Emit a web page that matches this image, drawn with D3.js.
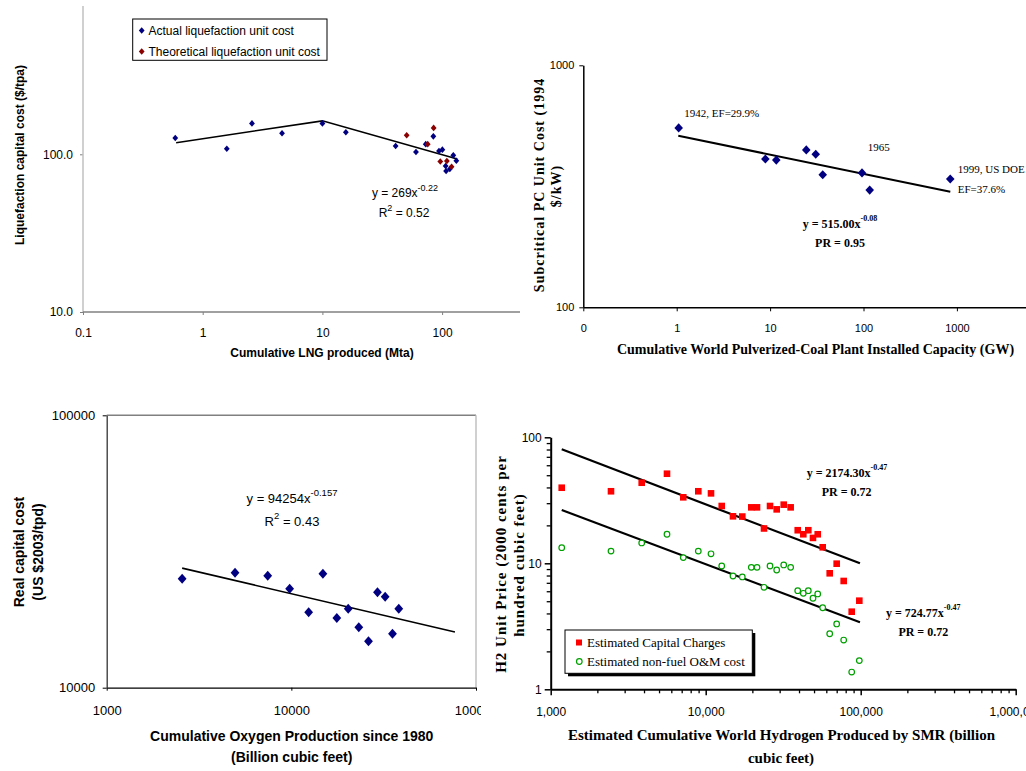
<!DOCTYPE html>
<html><head><meta charset="utf-8">
<script src="https://cdn.jsdelivr.net/npm/d3@7/dist/d3.min.js"></script>
<style>
body{margin:0;background:#fff;}
svg{display:block;}
.arial{font-family:"Liberation Sans",Arial,sans-serif;}
.times{font-family:"Liberation Serif","Times New Roman",serif;}
</style></head>
<body><svg id="c" width="1026" height="771"></svg>
<script>
// ---------- Panel 1: LNG liquefaction ----------
const lngActualX = [0.59,1.59,2.58,4.6,10,15.7,40.9,60.5,73,84.5,94.2,100.5,124,131.5,107,108,116];
const lngActualY = [127,108.5,157,136,157,138,113,103.4,116,130,105,107,98.5,91,84.3,78.4,80.7];
const lngTheoX = [50.6,85,75.8,96.6,109.6,120];
const lngTheoY = [132,147,116,90,90.6,83.4];
const lngTrendX = [0.6,10,134];
const lngTrendY = [118.5,163,93.4];
const lngXTicks = [0.1,1,10,100];
const lngXTickLabels = ["0.1","1","10","100"];
const lngYTicks = [10,100];
const lngYTickLabels = ["10.0","100.0"];

// ---------- Panel 2: Pulverized coal ----------
const coalX = [1.05,8.9,11.65,24.4,30.8,36.6,96.4,116.5,849];
const coalY = [551,410,406,447,429,353,359,305,339];
const coalTrendX = [1.04,850];
const coalTrendY = [512,300];
const coalXTicks = [0.1,1,10,100,1000];
const coalXTickLabels = ["0","1","10","100","1000"];
const coalYTicks = [100,1000];
const coalYTickLabels = ["100","1000"];

// ---------- Panel 3: Oxygen ----------
const oxyX = [2562,4955,7447,9790,14820,12410,17630,20330,23190,26170,29270,32210,35300,38170];
const oxyY = [25120,26430,25780,23080,26210,18920,18020,19500,16670,14800,22400,21580,15780,19500];
const oxyTrendX = [2562,76900];
const oxyTrendY = [27480,16010];
const oxyXTicks = [1000,10000,100000];
const oxyXTickLabels = ["1000","10000","100000"];
const oxyYTicks = [10000,100000];
const oxyYTickLabels = ["10000","100000"];

// ---------- Panel 4: Hydrogen SMR ----------
const h2X = [1178,2449,3865,5627,7168,8958,10820,12690,15000,17220,19690,21430,23780,26000,28710,31870,35330,39240,42640,45920,49220,52810,56860,63100,69990,77670,87500,97970];
const capY = [39.8,37.3,43.6,51.4,33.4,37.3,35.9,28.5,23.6,23.5,27.8,27.8,18.9,28.5,26.8,29.2,27.8,18.3,17.0,18.3,15.9,17.0,13.4,8.33,9.93,7.24,4.13,5.05];
const omY = [13.3,12.5,14.5,17.0,11.1,12.5,11.9,9.52,7.93,7.79,9.29,9.29,6.45,9.52,8.85,9.70,9.29,6.06,5.78,6.06,5.28,5.71,4.44,2.76,3.30,2.46,1.37,1.69];
const capTrendX = [1178,98900];
const capTrendY = [80.3,10.0];
const omTrendX = [1178,98900];
const omTrendY = [26.5,3.40];
const h2XTicks = [1000,10000,100000,1000000];
const h2XTickLabels = ["1,000","10,000","100,000","1,000,000"];
const h2YTicks = [1,10,100];
const h2YTickLabels = ["1","10","100"];

const svg = d3.select("#c");
svg.append("rect").attr("width",1026).attr("height",771).attr("fill","#fff");

function zip(xs, ys){ return xs.map((x,i)=>[x, ys[i]]); }
function fmt(ticks, labels){ return d => labels[ticks.indexOf(d)]; }
function minorTicks(lo, hi){ const out=[]; for(let p=lo;p<hi;p*=10){ for(let k=2;k<=9;k++) out.push(p*k);} return out; }
function diamond(hw, hh){ return `M0,${-hh}L${hw},0L0,${hh}L${-hw},0Z`; }

// ===== Panel 1 =====
{
  const g = svg.append("g").attr("class","arial");
  const x = d3.scaleLog().domain([0.1,1000]).range([83,561.8]);
  const y = d3.scaleLog().domain([10,1000]).range([312,-3.4]);
  svg.append("clipPath").attr("id","clip1").append("rect").attr("x",0).attr("y",0).attr("width",520).attr("height",370);
  const xa = g.append("g").attr("transform","translate(0,312)").attr("clip-path","url(#clip1)")
    .call(d3.axisBottom(x).tickValues(lngXTicks).tickFormat(fmt(lngXTicks,lngXTickLabels)).tickSize(3).tickPadding(13.5));
  xa.select(".domain").remove();
  xa.selectAll("line").attr("stroke","#808080");
  xa.selectAll("text").attr("font-size",12).attr("fill","#000");
  const ya = g.append("g").attr("transform","translate(83,0)")
    .call(d3.axisLeft(y).tickValues(lngYTicks).tickFormat(fmt(lngYTicks,lngYTickLabels)).tickSize(3).tickPadding(7));
  ya.select(".domain").remove();
  ya.selectAll("line").attr("stroke","#808080");
  ya.selectAll("text").attr("font-size",12).attr("fill","#000");
  g.append("line").attr("x1",83).attr("x2",83).attr("y1",6).attr("y2",312).attr("stroke","#c0c0c0").attr("stroke-width",1.5);
  g.append("line").attr("x1",83).attr("x2",520).attr("y1",312).attr("y2",312).attr("stroke","#808080").attr("stroke-width",1.5);
  g.append("path").datum(zip(lngTrendX,lngTrendY))
    .attr("d", d3.line().x(d=>x(d[0])).y(d=>y(d[1]))).attr("fill","none").attr("stroke","#000").attr("stroke-width",1.6);
  const dia = diamond(2.9,3.3);
  g.selectAll(".a").data(zip(lngActualX,lngActualY)).join("path")
    .attr("transform",d=>`translate(${x(d[0])},${y(d[1])})`).attr("d",dia).attr("fill","#000080");
  g.selectAll(".t").data(zip(lngTheoX,lngTheoY)).join("path")
    .attr("transform",d=>`translate(${x(d[0])},${y(d[1])})`).attr("d",dia).attr("fill","#8b0000");
  g.append("rect").attr("x",132.7).attr("y",19).attr("width",194.3).attr("height",41.3).attr("fill","#fff").attr("stroke","#000").attr("stroke-width",1);
  g.append("path").attr("transform","translate(141.7,30.5)").attr("d",dia).attr("fill","#000080");
  g.append("path").attr("transform","translate(141.7,51.5)").attr("d",dia).attr("fill","#8b0000");
  g.append("text").attr("x",148.5).attr("y",35).attr("font-size",12).text("Actual liquefaction unit cost");
  g.append("text").attr("x",148.5).attr("y",56).attr("font-size",12).text("Theoretical liquefaction unit cost");
  const eq = g.append("text").attr("x",405).attr("y",197).attr("font-size",12).attr("text-anchor","middle");
  eq.append("tspan").text("y = 269x");
  eq.append("tspan").attr("dy",-6).attr("font-size",9).text("-0.22");
  const r2 = g.append("text").attr("x",404).attr("y",217).attr("font-size",12).attr("text-anchor","middle");
  r2.append("tspan").text("R");
  r2.append("tspan").attr("dy",-6).attr("font-size",9).text("2");
  r2.append("tspan").attr("dy",6).text(" = 0.52");
  g.append("text").attr("transform","translate(24,155) rotate(-90)").attr("text-anchor","middle")
    .attr("font-size",12).attr("font-weight","bold").text("Liquefaction capital cost ($/tpa)");
  g.append("text").attr("x",322).attr("y",357).attr("text-anchor","middle")
    .attr("font-size",12).attr("font-weight","bold").text("Cumulative LNG produced (Mta)");
}

// ===== Panel 2 =====
{
  const g = svg.append("g").attr("class","times");
  const x = d3.scaleLog().domain([0.1,10000]).range([583.3,1050.3]);
  const y = d3.scaleLog().domain([100,1000]).range([307.3,65.3]);
  const xa = g.append("g").attr("transform","translate(0,307.3)")
    .call(d3.axisBottom(x).tickValues(coalXTicks).tickFormat(fmt(coalXTicks,coalXTickLabels)).tickSize(4).tickPadding(13).tickSizeOuter(0));
  xa.select(".domain").attr("stroke-width",1.5);
  xa.selectAll("text").attr("font-size",11).attr("fill","#000");
  const ya = g.append("g").attr("transform","translate(583.3,0)")
    .call(d3.axisLeft(y).tickValues(coalYTicks).tickFormat(fmt(coalYTicks,coalYTickLabels)).tickSize(4).tickPadding(5).tickSizeOuter(0));
  ya.select(".domain").attr("stroke-width",1.5);
  ya.selectAll("text").attr("font-size",11).attr("fill","#000");
  g.append("path").datum(zip(coalTrendX,coalTrendY))
    .attr("d", d3.line().x(d=>x(d[0])).y(d=>y(d[1]))).attr("fill","none").attr("stroke","#000").attr("stroke-width",2);
  const dia = diamond(4.3,4.6);
  g.selectAll(".c").data(zip(coalX,coalY)).join("path")
    .attr("transform",d=>`translate(${x(d[0])},${y(d[1])})`).attr("d",dia).attr("fill","#000080");
  g.append("text").attr("x",684.3).attr("y",117).attr("font-size",11).text("1942, EF=29.9%");
  g.append("text").attr("x",867.7).attr("y",151).attr("font-size",11).text("1965");
  g.append("text").attr("x",957.7).attr("y",173).attr("font-size",11).text("1999, US DOE");
  g.append("text").attr("x",957.7).attr("y",192.5).attr("font-size",11).text("EF=37.6%");
  const eq = g.append("text").attr("x",802.7).attr("y",228).attr("font-size",12).attr("font-weight","bold");
  eq.append("tspan").text("y = 515.00x");
  eq.append("tspan").attr("dy",-7).attr("font-size",8).text("-0.08");
  g.append("text").attr("x",840).attr("y",247).attr("font-size",12).attr("font-weight","bold").attr("text-anchor","middle").text("PR = 0.95");
  g.append("text").attr("transform","translate(544,185) rotate(-90)").attr("text-anchor","middle")
    .attr("font-size",14).attr("font-weight","bold").attr("letter-spacing",1).text("Subcritical PC Unit Cost (1994");
  g.append("text").attr("transform","translate(561,186) rotate(-90)").attr("text-anchor","middle")
    .attr("font-size",14).attr("font-weight","bold").attr("letter-spacing",1).text("$/kW)");
  g.append("text").attr("x",815.5).attr("y",353.5).attr("text-anchor","middle")
    .attr("font-size",14).attr("font-weight","bold").text("Cumulative World Pulverized-Coal Plant Installed Capacity (GW)");
}

// ===== Panel 3 =====
{
  const g = svg.append("g").attr("class","arial");
  svg.append("clipPath").attr("id","clip3").append("rect").attr("x",0).attr("y",380).attr("width",481).attr("height",391);
  g.attr("clip-path","url(#clip3)");
  const x = d3.scaleLog().domain([1000,100000]).range([106.7,476]);
  const y = d3.scaleLog().domain([10000,100000]).range([687.7,415.3]);
  g.append("line").attr("x1",106.7).attr("x2",476).attr("y1",415.3).attr("y2",415.3).attr("stroke","#808080").attr("stroke-width",1.5);
  g.append("line").attr("x1",476).attr("x2",476).attr("y1",415.3).attr("y2",687.7).attr("stroke","#c0c0c0").attr("stroke-width",1.5);
  const xa = g.append("g").attr("transform","translate(0,687.7)")
    .call(d3.axisBottom(x).tickValues(oxyXTicks).tickFormat(fmt(oxyXTicks,oxyXTickLabels)).tickSize(3).tickPadding(15).tickSizeOuter(0));
  xa.select(".domain").attr("stroke-width",1.3);
  xa.selectAll("text").attr("font-size",13).attr("fill","#000");
  const ya = g.append("g").attr("transform","translate(106.7,0)")
    .call(d3.axisLeft(y).tickValues(oxyYTicks).tickFormat(fmt(oxyYTicks,oxyYTickLabels)).tickSize(4).tickPadding(7.5).tickSizeOuter(0));
  ya.select(".domain").attr("stroke","#333").attr("stroke-width",1.3);
  ya.selectAll("text").attr("font-size",13).attr("fill","#000");
  g.append("path").datum(zip(oxyTrendX,oxyTrendY))
    .attr("d", d3.line().x(d=>x(d[0])).y(d=>y(d[1]))).attr("fill","none").attr("stroke","#000").attr("stroke-width",1.6);
  const dia = diamond(4.4,5);
  g.selectAll(".o").data(zip(oxyX,oxyY)).join("path")
    .attr("transform",d=>`translate(${x(d[0])},${y(d[1])})`).attr("d",dia).attr("fill","#000080");
  const eq = g.append("text").attr("x",292).attr("y",503).attr("font-size",13).attr("text-anchor","middle");
  eq.append("tspan").text("y = 94254x");
  eq.append("tspan").attr("dy",-7).attr("font-size",9.5).text("-0.157");
  const r2 = g.append("text").attr("x",292).attr("y",526).attr("font-size",13).attr("text-anchor","middle");
  r2.append("tspan").text("R");
  r2.append("tspan").attr("dy",-7).attr("font-size",9.5).text("2");
  r2.append("tspan").attr("dy",7).text(" = 0.43");
  g.append("text").attr("transform","translate(24,552) rotate(-90)").attr("text-anchor","middle")
    .attr("font-size",14).attr("font-weight","bold").text("Real capital cost");
  g.append("text").attr("transform","translate(43,552) rotate(-90)").attr("text-anchor","middle")
    .attr("font-size",14).attr("font-weight","bold").text("(US $2003/tpd)");
  g.append("text").attr("x",291.7).attr("y",741).attr("text-anchor","middle")
    .attr("font-size",14).attr("font-weight","bold").text("Cumulative Oxygen Production since 1980");
  g.append("text").attr("x",291.7).attr("y",762).attr("text-anchor","middle")
    .attr("font-size",14).attr("font-weight","bold").text("(Billion cubic feet)");
}

// ===== Panel 4 =====
{
  const g = svg.append("g").attr("class","times");
  const x = d3.scaleLog().domain([1000,1000000]).range([550.7,1015.7]);
  const y = d3.scaleLog().domain([1,100]).range([689.3,437.3]);
  const xa2 = g.append("g").attr("transform","translate(0,689.3)")
    .call(d3.axisBottom(x).tickValues(minorTicks(1000,1000000)).tickFormat("").tickSize(4).tickSizeOuter(0));
  xa2.select(".domain").remove();
  xa2.selectAll("line").attr("stroke-width",1.3);
  const ya2 = g.append("g").attr("transform","translate(550.7,0)")
    .call(d3.axisLeft(y).tickValues(minorTicks(1,100)).tickFormat("").tickSize(4).tickSizeOuter(0));
  ya2.select(".domain").remove();
  ya2.selectAll("line").attr("stroke-width",1.3);
  const xa = g.append("g").attr("transform","translate(0,689.3)")
    .call(d3.axisBottom(x).tickValues(h2XTicks).tickFormat(fmt(h2XTicks,h2XTickLabels)).tickSize(6).tickPadding(12).tickSizeOuter(0));
  xa.select(".domain").attr("stroke-width",2);
  xa.selectAll("line").attr("stroke-width",1.5);
  xa.selectAll("text").attr("font-size",12).attr("fill","#000");
  const ya = g.append("g").attr("transform","translate(550.7,0)")
    .call(d3.axisLeft(y).tickValues(h2YTicks).tickFormat(fmt(h2YTicks,h2YTickLabels)).tickSize(6).tickPadding(3).tickSizeOuter(0));
  ya.select(".domain").attr("stroke-width",2);
  ya.selectAll("line").attr("stroke-width",1.5);
  ya.selectAll("text").attr("font-size",12).attr("fill","#000");
  const line = d3.line().x(d=>x(d[0])).y(d=>y(d[1]));
  g.append("path").datum(zip(capTrendX,capTrendY)).attr("d",line).attr("fill","none").attr("stroke","#000").attr("stroke-width",2.2);
  g.append("path").datum(zip(omTrendX,omTrendY)).attr("d",line).attr("fill","none").attr("stroke","#000").attr("stroke-width",2.2);
  g.selectAll(".cap").data(zip(h2X,capY)).join("rect")
    .attr("x",d=>x(d[0])-3.3).attr("y",d=>y(d[1])-3.3).attr("width",6.6).attr("height",6.6).attr("fill","#ff0000");
  g.selectAll(".om").data(zip(h2X,omY)).join("circle")
    .attr("cx",d=>x(d[0])).attr("cy",d=>y(d[1])).attr("r",2.8).attr("fill","#fff").attr("stroke","#00a000").attr("stroke-width",1.2);
  const e1 = g.append("text").attr("x",806.7).attr("y",476.7).attr("font-size",12).attr("font-weight","bold");
  e1.append("tspan").text("y = 2174.30x");
  e1.append("tspan").attr("dy",-7).attr("font-size",8).text("-0.47");
  g.append("text").attr("x",846.7).attr("y",496).attr("font-size",12).attr("font-weight","bold").attr("text-anchor","middle").text("PR = 0.72");
  const e2 = g.append("text").attr("x",886).attr("y",616.7).attr("font-size",12).attr("font-weight","bold");
  e2.append("tspan").text("y = 724.77x");
  e2.append("tspan").attr("dy",-7).attr("font-size",8).text("-0.47");
  g.append("text").attr("x",923.3).attr("y",636).attr("font-size",12).attr("font-weight","bold").attr("text-anchor","middle").text("PR = 0.72");
  g.append("rect").attr("x",568).attr("y",633).attr("width",187.3).attr("height",43.3).attr("fill","#000");
  g.append("rect").attr("x",565).attr("y",630).attr("width",187.3).attr("height",43.3).attr("fill","#fff").attr("stroke","#000").attr("stroke-width",1);
  g.append("rect").attr("x",576).attr("y",639.5).attr("width",6).attr("height",6).attr("fill","#ff0000");
  g.append("circle").attr("cx",579.3).attr("cy",661.5).attr("r",2.8).attr("fill","#fff").attr("stroke","#00a000").attr("stroke-width",1.2);
  g.append("text").attr("x",587).attr("y",647).attr("font-size",13).text("Estimated Capital Charges");
  g.append("text").attr("x",587).attr("y",666).attr("font-size",13).text("Estimated non-fuel O&M cost");
  g.append("text").attr("transform","translate(506,564) rotate(-90)").attr("text-anchor","middle")
    .attr("font-size",15).attr("font-weight","bold").attr("letter-spacing",1).text("H2 Unit Price (2000 cents per");
  g.append("text").attr("transform","translate(524,565) rotate(-90)").attr("text-anchor","middle")
    .attr("font-size",15).attr("font-weight","bold").attr("letter-spacing",1).text("hundred cubic feet)");
  g.append("text").attr("x",781.5).attr("y",740).attr("text-anchor","middle")
    .attr("font-size",15).attr("font-weight","bold").text("Estimated Cumulative World Hydrogen Produced by SMR (billion");
  g.append("text").attr("x",781).attr("y",763).attr("text-anchor","middle")
    .attr("font-size",15).attr("font-weight","bold").text("cubic feet)");
}
</script></body></html>
